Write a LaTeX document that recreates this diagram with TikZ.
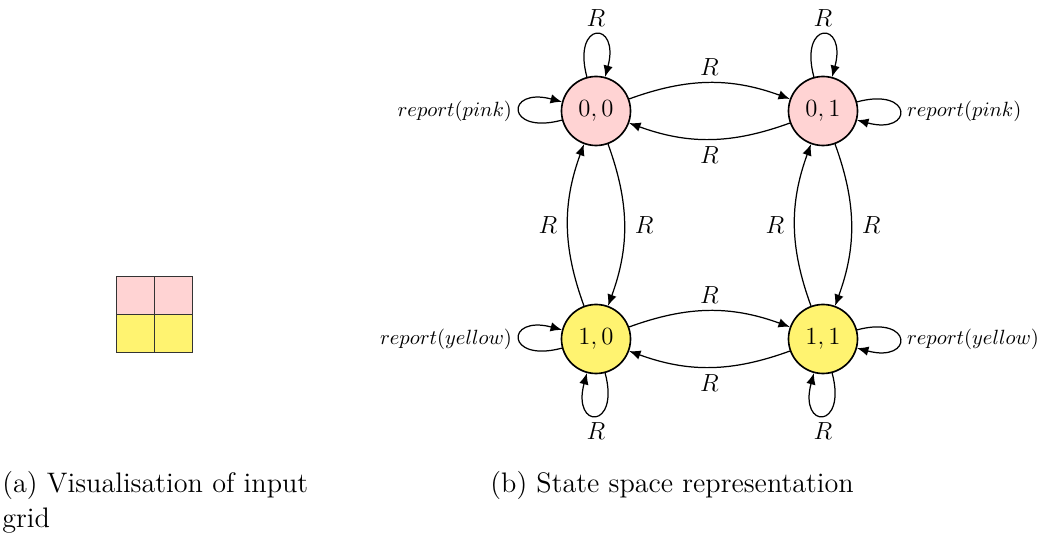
\documentclass[tikz,border=0pt]{standalone}
\usetikzlibrary{arrows.meta,automata}
\definecolor{cellpink}{RGB}{255,211,211}
\definecolor{cellyellow}{RGB}{255,243,112}
\begin{document}
\begin{tikzpicture}[x=0.4855pt,y=0.4855pt,
  st/.style={circle,draw,line width=0.8pt,minimum size=33.5pt,inner sep=0pt,
    font=\fontsize{13}{15}\selectfont},
  tr/.style={-{Latex[length=5.5pt,width=4.6pt]},line width=0.6pt},
  lab/.style={font=\large},
  sidelab/.style={font=\large,inner sep=4.8pt},
  rep/.style={font=\normalsize},
  captext/.style={font=\fontsize{13.7}{17}\selectfont,inner sep=0pt},
  gridline/.style={draw=black!80,line width=0.6pt},
  every loop/.style={tr,min distance=1cm}]
\useasboundingbox (0,0) rectangle (1046,-535);

% input grid: pink top row, yellow bottom row
\fill[cellpink] (116.7,-276.7) rectangle (192.7,-314.7);
\fill[cellyellow] (116.7,-314.7) rectangle (192.7,-352.7);
\draw[gridline] (116.7,-276.7) rectangle (192.7,-352.7);
\draw[gridline] (154.7,-276.7) -- (154.7,-352.7);
\draw[gridline] (116.7,-314.7) -- (192.7,-314.7);

% states
\node[st,fill=cellpink] (s00) at (596,-111) {$0,0$};
\node[st,fill=cellpink] (s01) at (823,-111) {$0,1$};
\node[st,fill=cellyellow] (s10) at (596,-339) {$1,0$};
\node[st,fill=cellyellow] (s11) at (823,-339) {$1,1$};

% self loops
\path[tr]
  (s00) edge[loop above] node[above,lab] {$R$} (s00)
  (s00) edge[loop left] node[left,rep] {$report(pink)$} (s00)
  (s01) edge[loop above] node[above,lab] {$R$} (s01)
  (s01) edge[loop right] node[right,rep] {$report(pink)$} (s01)
  (s10) edge[loop below] node[below,lab] {$R$} (s10)
  (s10) edge[loop left] node[left,rep] {$report(yellow)$} (s10)
  (s11) edge[loop below] node[below,lab] {$R$} (s11)
  (s11) edge[loop right] node[right,rep] {$report(yellow)$} (s11);

% transitions between states
\path[tr]
  (s00) edge[bend left=20] node[above,lab] {$R$} (s01)
  (s01) edge[bend left=20] node[below,lab] {$R$} (s00)
  (s00) edge[bend left=20] node[right,sidelab] {$R$} (s10)
  (s10) edge[bend left=20] node[left,sidelab] {$R$} (s00)
  (s01) edge[bend left=20] node[right,sidelab] {$R$} (s11)
  (s11) edge[bend left=20] node[left,sidelab] {$R$} (s01)
  (s10) edge[bend left=20] node[above,lab] {$R$} (s11)
  (s11) edge[bend left=20] node[below,lab] {$R$} (s10);

% captions
\node[captext,anchor=base west,align=left] (capa) at (2,-528) {(a) Visualisation of input\\grid};
\node[captext,anchor=base west] (capb) at (490,-493) {(b) State space representation};
\end{tikzpicture}
\end{document}
